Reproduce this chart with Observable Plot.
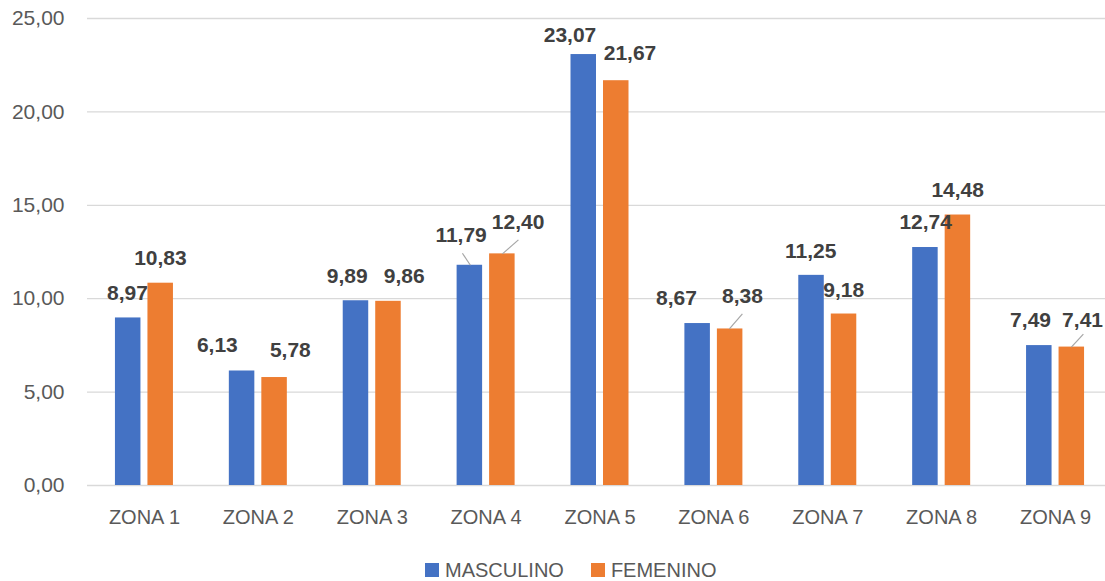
<!DOCTYPE html>
<html>
<head>
<meta charset="utf-8">
<script src="https://cdn.jsdelivr.net/npm/d3@7"></script>
<script src="https://cdn.jsdelivr.net/npm/@observablehq/plot@0.6"></script>
<style>
  body { margin: 0; background: #fff; font-family: "Liberation Sans", Arial, sans-serif; }
  #wrap { position: relative; width: 1105px; height: 581px; overflow: hidden; }
  #legend { position: absolute; top: 560px; left: 425px; display: flex; align-items: center;
            font-size: 20px; line-height: 20px; color: #595959; white-space: nowrap; }
  #legend .item { display: flex; align-items: center; }
  #legend .sw { width: 14px; height: 14px; margin-right: 6px; }
</style>
</head>
<body>
<div id="wrap"></div>
<script>
// ---- data ----
const zones = ["ZONA 1", "ZONA 2", "ZONA 3", "ZONA 4", "ZONA 5", "ZONA 6", "ZONA 7", "ZONA 8", "ZONA 9"];
const masculino = [8.97, 6.13, 9.89, 11.79, 23.07, 8.67, 11.25, 12.74, 7.49];
const femenino = [10.83, 5.78, 9.86, 12.40, 21.67, 8.38, 9.18, 14.48, 7.41];
const seriesNames = ["MASCULINO", "FEMENINO"];
const yTicks = [0, 5, 10, 15, 20, 25];

// ---- styling / layout (kept apart from data) ----
const seriesColors = ["#4472C4", "#ED7D31"];
// label nudges in px from group centre / bar top: [dx, dy(up negative)]
const labelNudgeM = [[-17, -25], [-41, -25.5], [-25, -24], [-25, -30], [-30, -19.6], [-37.5, -25.5], [-17, -24.4], [-16, -25.5], [-25, -25.6]];
const labelNudgeF = [[16, -24.7], [32, -27.5], [32, -25], [32, -32], [30, -27], [28.5, -33], [16, -24], [16, -24.5], [27, -27]];
// leader lines: zone index, series, start [dx,dy], end [dx,dy] in px
const leaders = [
  {i: 3, s: 0, a: [-15.7, 0], b: [-23.7, -12]},
  {i: 3, s: 1, a: [16.3, 0], b: [32.3, -14]},
  {i: 5, s: 1, a: [15.5, 0], b: [28.5, -15]},
  {i: 8, s: 1, a: [15.8, 0], b: [27.8, -13]}
];

const W = 1105, H = 545, mt = 18, mb = 60, ml = 87;
const xRange = [87, 1112];
const xu = (xRange[1] - xRange[0]) / zones.length;   // px per zone
const yu = (H - mb - mt) / 25;                       // px per unit

const fmt = v => v.toFixed(2).replace(".", ",");
const rowsM = zones.map((z, i) => ({i, s: 0, v: masculino[i]}));
const rowsF = zones.map((z, i) => ({i, s: 1, v: femenino[i]}));
const rows = rowsM.concat(rowsF);
const val = (i, s) => (s === 0 ? masculino : femenino)[i];
const nudge = d => (d.s === 0 ? labelNudgeM : labelNudgeF)[d.i];

const chart = Plot.plot({
  width: W,
  height: H,
  marginTop: mt,
  marginBottom: mb,
  marginLeft: ml,
  marginRight: 0,
  style: {fontFamily: "Liberation Sans, Arial, sans-serif", color: "#595959", background: "white", overflow: "visible"},
  x: {type: "linear", domain: [-0.5, zones.length - 0.5], range: xRange},
  y: {domain: [0, 25]},
  marks: [
    Plot.ruleY(yTicks, {stroke: "#D9D9D9", strokeWidth: 1.3}),
    Plot.rectY(rowsM, {x1: d => d.i - 29 / xu, x2: d => d.i - 3.5 / xu, y1: 0, y2: "v", fill: seriesColors[0]}),
    Plot.rectY(rowsF, {x1: d => d.i + 3.5 / xu, x2: d => d.i + 29 / xu, y1: 0, y2: "v", fill: seriesColors[1]}),
    Plot.link(leaders, {
      x1: d => d.i + d.a[0] / xu, y1: d => val(d.i, d.s) - d.a[1] / yu,
      x2: d => d.i + d.b[0] / xu, y2: d => val(d.i, d.s) - d.b[1] / yu,
      stroke: "#A6A6A6", strokeWidth: 1.2
    }),
    Plot.text(rows, {
      x: d => d.i + nudge(d)[0] / xu,
      y: d => d.v - nudge(d)[1] / yu,
      text: d => fmt(d.v),
      fontWeight: "bold", fontSize: 21, fill: "#404040",
      textAnchor: "middle", lineAnchor: "middle"
    }),
    Plot.axisY({ticks: yTicks, tickFormat: fmt, tickSize: 0, tickPadding: 23, fontSize: 21, fill: "#595959", label: null}),
    Plot.axisX({ticks: d3.range(zones.length), tickFormat: i => zones[i], tickSize: 0, tickPadding: 24, fontSize: 20, fill: "#595959", label: null})
  ]
});

const wrap = document.getElementById("wrap");
wrap.appendChild(chart);

const legend = document.createElement("div");
legend.id = "legend";
seriesNames.forEach((name, k) => {
  const item = document.createElement("div");
  item.className = "item";
  if (k > 0) item.style.marginLeft = "27px";
  const sw = document.createElement("span");
  sw.className = "sw";
  sw.style.background = seriesColors[k];
  const t = document.createElement("span");
  t.textContent = name;
  item.appendChild(sw);
  item.appendChild(t);
  legend.appendChild(item);
});
wrap.appendChild(legend);
</script>
</body>
</html>
